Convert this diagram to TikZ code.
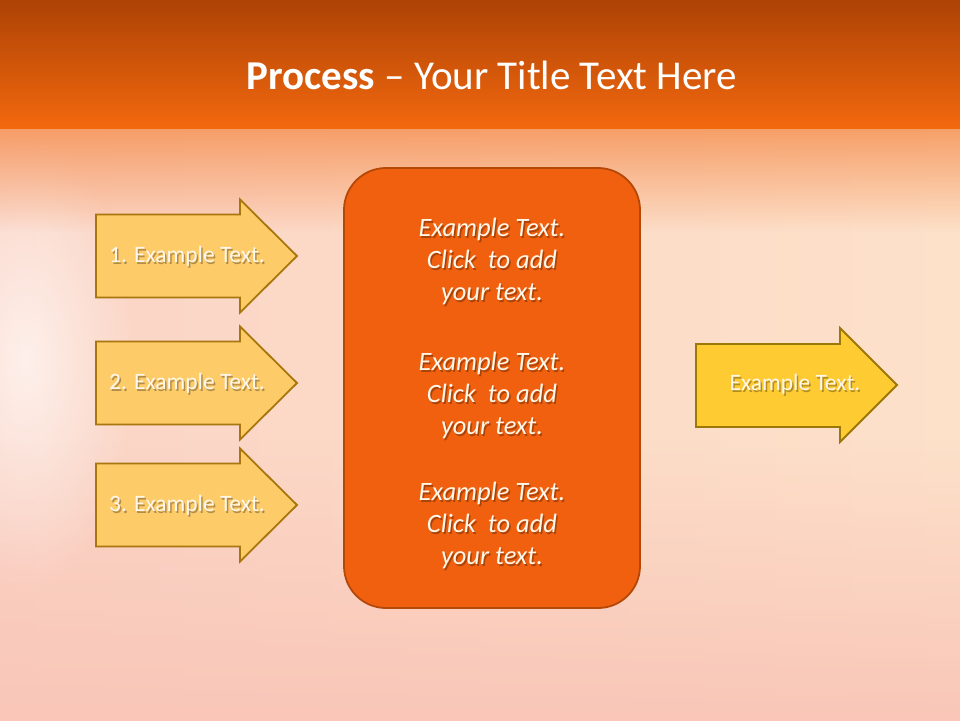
\documentclass[tikz,border=0pt]{standalone}
\usepackage{fontspec}
\setmainfont{Carlito}
\usetikzlibrary{fadings}
\definecolor{topdark}{HTML}{AC4205}
\definecolor{topmid}{HTML}{F2680E}
\definecolor{bgleft}{HTML}{FBD4C6}
\definecolor{bgright}{HTML}{FDE1C9}
\definecolor{bgpink}{HTML}{F9C6B8}
\definecolor{boxfill}{HTML}{F0600E}
\definecolor{boxline}{HTML}{B44808}
\definecolor{arrfill}{HTML}{FECB69}
\definecolor{arrline}{HTML}{A8760C}
\definecolor{outfill}{HTML}{FECB33}
\definecolor{outline}{HTML}{9C7806}
\definecolor{cream}{HTML}{FFF7EA}
\tikzfading[name=softblob, inner color=transparent!35, outer color=transparent!100]
\tikzset{
  arrowshape/.style={fill=arrfill, draw=arrline, line width=1.8pt, line join=miter},
  outshape/.style={fill=outfill, draw=outline, line width=1.8pt, line join=miter},
  arrtext/.style={text=cream, font=\fontsize{23.5}{26}\selectfont, inner sep=0pt},
  boxtext/.style={text=cream, font=\fontsize{26.5}{32}\selectfont\itshape, align=center, inner sep=0pt},
  shadowtext/.style={text=black, opacity=0.3},
  titletext/.style={text=white, font=\fontsize{41}{44}\selectfont, inner sep=0pt}
}
\begin{document}
\begin{tikzpicture}[x=1pt,y=-1pt]
\useasboundingbox (0,0) rectangle (960,720);
% background
\fill[bgright] (-2,-2) rectangle (962,722);
\shade[left color=bgleft, right color=bgright] (-2,-2) rectangle (962,722);
\fill[bgpink, path fading=north] (-2,440) rectangle (962,722);
\fill[white, path fading=softblob] (25,360) ellipse (110 and 230);
\fill[topmid!65!bgleft, path fading=south] (-2,100) rectangle (962,232);
\shade[top color=topdark, bottom color=topmid] (-2,-2) rectangle (962,128);
% title
\node[titletext] (title) at (492,75) {\textbf{Process} – Your Title Text Here};
% center box
\node[fill=boxfill, draw=boxline, line width=1.8pt, rounded corners=42pt,
      minimum width=296pt, minimum height=440pt] (box) at (492,388) {};
\foreach \y/\n in {261/a,395/b,525/c}{
  \node[boxtext, shadowtext] at ([xshift=1.5pt,yshift=-2pt]492,\y) {Example Text.\\Click\ \ to add\\your text.};
  \node[boxtext] (txt\n) at (492,\y) {Example Text.\\Click\ \ to add\\your text.};
}
% left arrows
\foreach \c/\n in {256/1,383/2,505/3}{
  \draw[arrowshape] (96,\c-41.5) -- (240,\c-41.5) -- (240,\c-56.5) -- (297,\c) -- (240,\c+56.5) -- (240,\c+41.5) -- (96,\c+41.5) -- cycle;
  \node[arrtext, shadowtext] at ([xshift=1.5pt,yshift=-2pt]187,\c) {\n. Example Text.};
  \node[arrtext] (arr\n) at (187,\c) {\n. Example Text.};
}
% right arrow
\draw[outshape] (696,344) -- (840,344) -- (840,328) -- (897,385) -- (840,442) -- (840,427) -- (696,427) -- cycle;
\node[arrtext, shadowtext] at ([xshift=1.5pt,yshift=-2pt]795,384) {Example Text.};
\node[arrtext] (out) at (795,384) {Example Text.};
\end{tikzpicture}
\end{document}
